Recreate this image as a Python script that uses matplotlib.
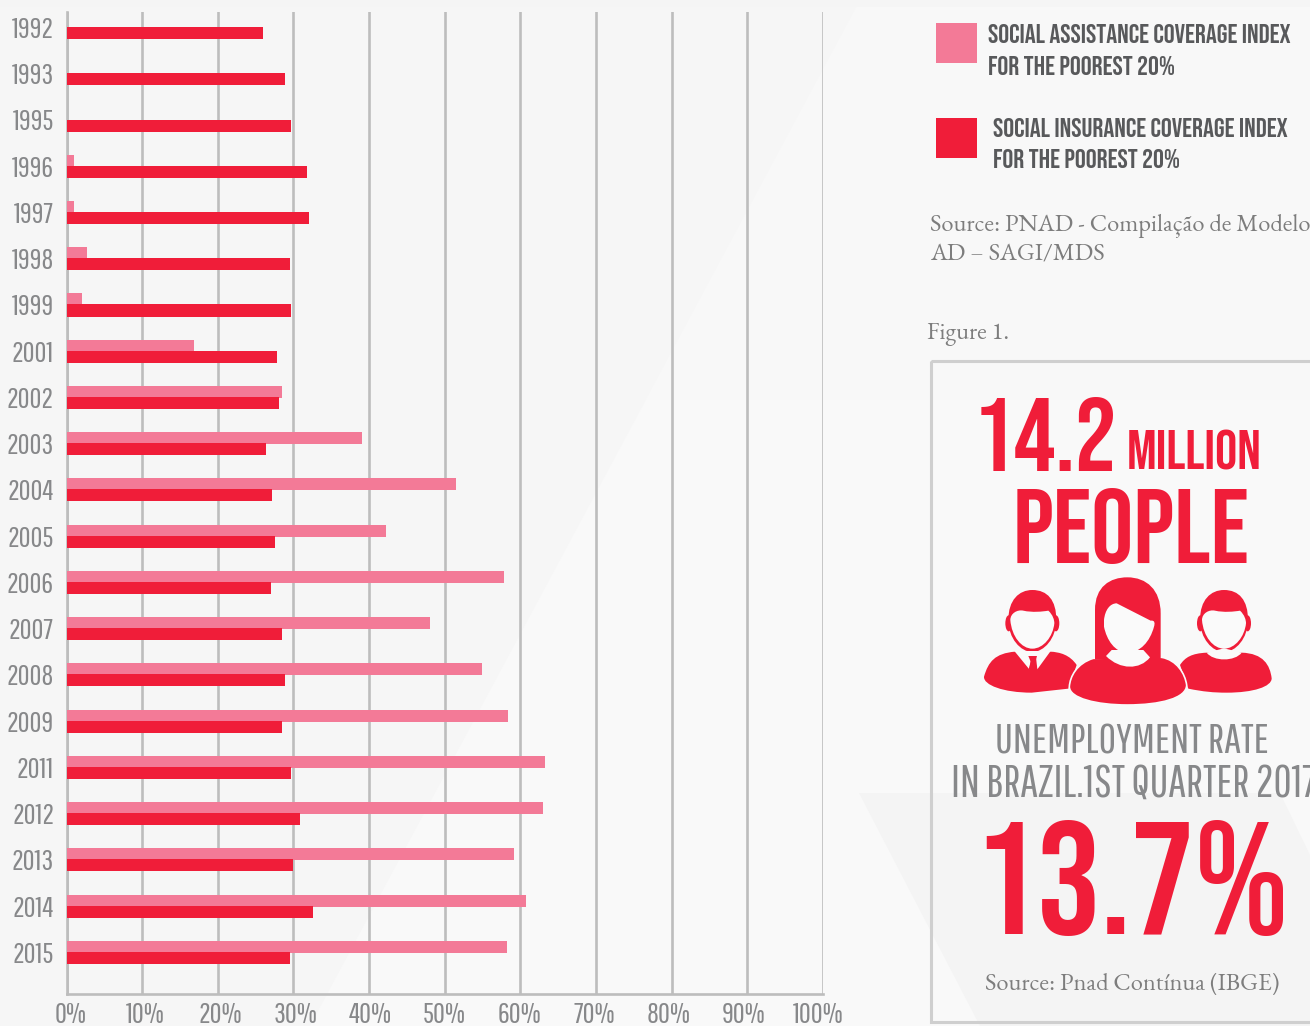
# Social assistance / insurance coverage of the poorest 20%, plus infographic panel
import matplotlib
matplotlib.use("Agg")
import matplotlib.pyplot as plt
from matplotlib.patches import Polygon, Rectangle, PathPatch, Ellipse
from matplotlib.path import Path
from matplotlib.transforms import ScaledTranslation

# === Daten ===
years = ["1992", "1993", "1995", "1996", "1997", "1998", "1999", "2001", "2002", "2003", "2004",
         "2005", "2006", "2007", "2008", "2009", "2011", "2012", "2013", "2014", "2015"]
assistance = [0, 0, 0, 1.0, 1.0, 2.7, 2.0, 16.9, 28.5, 39.1, 51.5,
              42.3, 57.8, 48.0, 54.9, 58.4, 63.3, 63.0, 59.2, 60.7, 58.2]
insurance = [26.0, 28.9, 29.7, 31.8, 32.0, 29.6, 29.7, 27.8, 28.1, 26.4, 27.1,
             27.6, 27.0, 28.5, 28.9, 28.5, 29.7, 30.8, 30.0, 32.6, 29.6]
x_ticks = [0, 10, 20, 30, 40, 50, 60, 70, 80, 90, 100]

# === Stil ===
W, H = 1310, 1026
RED = "#f01d39"
PINK = "#f37a97"
GRID = "#bdbdbd"
GREY = "#87888a"
DARK = "#58595b"
SERIF_GREY = "#7d7d7d"
BOLD = ["Bebas Neue", "Roboto Condensed"]
THIN = ["Pathway Gothic One", "Antonio", "Roboto Condensed"]
SERIF = ["EB Garamond", "Liberation Serif"]

fig = plt.figure(figsize=(W / 100, H / 100), dpi=100, facecolor="#f6f6f6")

# === Hintergrund ===
bg = fig.add_axes([0, 0, 1, 1], zorder=0)
bg.set_xlim(0, W)
bg.set_ylim(H, 0)
bg.axis("off")
bg.add_patch(Polygon([(860, 0), (W, 0), (W, H), (310, H)], color="#f8f8f8", lw=0))
bg.add_patch(Polygon([(646, 400), (W, 400), (W, H), (310, H)], color="#f9f9f9", lw=0))
bg.add_patch(Rectangle((0, 0), W, 7, color="#f5f5f5", lw=0))
bg.add_patch(Polygon([(859, 793), (1280, 793), (W, 855), (W, H), (980, H)], color="#f4f4f4", lw=0))

# === Balkendiagramm ===
ax = fig.add_axes([66.5 / W, 1 - 994 / H, (823 - 66.5) / W, (994 - 12) / H], zorder=1)
ax.patch.set_alpha(0)
pos = list(range(len(years)))
ax.barh([p - 0.12 for p in pos], assistance, height=0.26, color=PINK, zorder=3)
ax.barh([p + 0.12 for p in pos], insurance, height=0.26, color=RED, zorder=3)
ax.set_xlim(0, 100)
ax.set_ylim(20.9, -0.335)
ax.set_yticks(pos, years)
ax.set_xticks(x_ticks, [f"{v}%" for v in x_ticks])
ax.grid(axis="x", color=GRID, lw=1.9, zorder=1)
ax.set_axisbelow(True)
for side in ["top", "right"]:
    ax.spines[side].set_visible(False)
for side in ["left", "bottom"]:
    ax.spines[side].set_color(GRID)
    ax.spines[side].set_linewidth(1.9)
ax.tick_params(axis="y", length=0, pad=9, labelcolor=GREY)
ax.tick_params(axis="x", length=0, pad=6, labelcolor=GREY)
for lab in ax.get_yticklabels() + ax.get_xticklabels():
    lab.set_family(THIN)
    lab.set_fontsize(21)
for lab, v in zip(ax.get_xticklabels(), x_ticks):
    lab.set_transform(lab.get_transform() + ScaledTranslation((4.5 - 0.09 * v) / 100, 0, fig.dpi_scale_trans))

# === Rechte Spalte ===
fg = fig.add_axes([0, 0, 1, 1], zorder=2)
fg.set_xlim(0, W)
fg.set_ylim(H, 0)
fg.axis("off")
fg.patch.set_alpha(0)


def txt(x, y, s, size, color, family=BOLD, ha="left"):
    fg.text(x, y, s, fontsize=size, color=color, family=family, ha=ha, va="baseline")


fg.add_patch(Rectangle((936, 23), 41, 40, color=PINK, lw=0))
fg.add_patch(Rectangle((936, 118), 41, 40, color=RED, lw=0))
txt(988, 43, "SOCIAL ASSISTANCE COVERAGE INDEX", 19.6, DARK)
txt(988, 75, "FOR THE POOREST 20%", 19.6, DARK)
txt(993, 137, "SOCIAL INSURANCE COVERAGE INDEX", 19.6, DARK)
txt(993, 168, "FOR THE POOREST 20%", 19.6, DARK)
txt(930, 231, "Source: PNAD - Compilação de Modelo", 17.6, SERIF_GREY, SERIF)
txt(930, 260, "AD – SAGI/MDS", 17.6, SERIF_GREY, SERIF)
txt(927, 339, "Figure 1.", 17.6, SERIF_GREY, SERIF)

# Rahmen, rechts aus dem Bild heraus
fg.add_patch(Rectangle((931, 361), 500, 661, fill=False, ec="#cfcfcf", lw=2.2))

txt(973, 471, "14.2", 75, RED)
txt(1127, 470, "MILLION", 40, RED)
txt(1013, 563, "PEOPLE", 76, RED)
txt(995, 753, "UNEMPLOYMENT RATE", 30.6, GREY, THIN)
txt(951, 797, "IN BRAZIL.1ST QUARTER 2017", 32, GREY, THIN)
txt(973, 934, "13.7%", 115, RED)
txt(985, 990, "Source: Pnad Contínua (IBGE)", 17.6, SERIF_GREY, SERIF)


# === Icons ===
def pt(x, y):
    return (920 + x / 3, 570 + y / 3)


def shape(start, curves, color=RED, zorder=3, ec="none", lw=0):
    verts = [pt(*start)]
    codes = [Path.MOVETO]
    for c in curves:
        if len(c) == 2:
            verts.append(pt(*c))
            codes.append(Path.LINETO)
        else:
            verts += [pt(c[0], c[1]), pt(c[2], c[3]), pt(c[4], c[5])]
            codes += [Path.CURVE4] * 3
    verts.append(verts[0])
    codes.append(Path.CLOSEPOLY)
    fg.add_patch(PathPatch(Path(verts, codes), fc=color, ec=ec, lw=lw, zorder=zorder))


def ellipse(x, y, w, h, color, zorder=3):
    fg.add_patch(Ellipse(pt(x, y), w / 3, h / 3, color=color, lw=0, zorder=zorder))


PAPER = "#fafafa"


def head(cx):
    # Haare, Ohren, Gesicht
    shape((cx - 72, 150), [(cx - 72, 90, cx - 40, 60, cx, 60), (cx + 45, 60, cx + 72, 90, cx + 72, 150),
                           (cx + 72, 205, cx + 35, 246, cx, 246), (cx - 35, 246, cx - 72, 205, cx - 72, 150)])
    ellipse(cx - 71, 160, 20, 48, RED)
    ellipse(cx + 71, 160, 20, 48, RED)
    shape((cx - 66, 150), [(cx - 66, 130, cx - 45, 118, cx - 27, 122), (cx, 128, cx + 30, 125, cx + 48, 122),
                           (cx + 62, 135, cx + 66, 150, cx + 66, 160), (cx + 62, 200, cx + 33, 236, cx, 236),
                           (cx - 32, 236, cx - 62, 200, cx - 66, 150)], PAPER, 4)


# Mann links
shape((285, 245), [(225, 250, 205, 275, 192, 320), (190, 345, 250, 368, 335, 368), (445, 356),
                   (470, 285), (450, 255, 420, 246, 390, 245)])
shape((283, 243), [(328, 298), (334, 262), (348, 262), (352, 298), (392, 243)], PAPER, 3.5)
shape((325, 258), [(351, 258), (346, 275), (352, 298), (326, 298), (332, 275)], RED, 3.6)
head(337)

# Mann rechts
shape((860, 248), [(815, 250, 795, 262, 780, 285), (805, 356), (850, 365, 880, 368, 920, 368),
                   (1000, 368, 1055, 350, 1055, 325), (1050, 285, 1030, 250, 965, 248)])
shape((860, 248), [(880, 275, 945, 275, 965, 248), (912, 235)], PAPER, 3.5)
head(912)

# Frau
shape((525, 268), [(525, 120), (525, 50, 570, 22, 622, 22), (680, 22, 722, 60, 722, 130), (722, 268)], RED, 5)
shape((520, 265), [(470, 280, 450, 320, 448, 350), (448, 385, 530, 405, 622, 405),
                   (720, 405, 800, 385, 800, 345), (795, 310, 770, 270, 725, 262)], RED, 4.8, PAPER, 1.2)
shape((558, 258), [(600, 300, 660, 300, 690, 262), (670, 240), (575, 240)], PAPER, 5.2)
shape((552, 150), [(555, 120, 570, 100, 590, 100), (692, 152), (705, 150, 705, 160, 702, 170),
                   (690, 215, 660, 248, 622, 248), (585, 248, 560, 210, 552, 170)], PAPER, 5.4)

fig.savefig("out.png", dpi=100, facecolor=fig.get_facecolor())
